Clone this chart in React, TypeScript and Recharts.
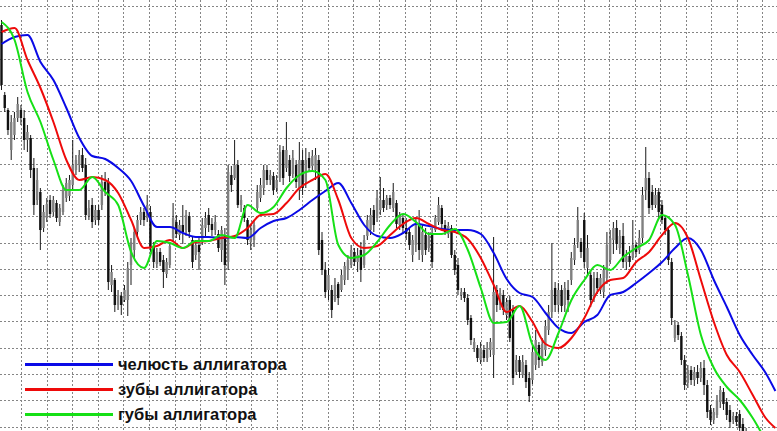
import { ComposedChart, Bar, Line, XAxis, YAxis, CartesianGrid, Legend } from 'recharts';

// price in points, one candle per entry
const highs = [
  980, 908, 892, 885, 888, 903, 895, 890, 875, 865, 842, 832, 812, 795, 802, 805, 804, 800, 796, 815,
  822, 825, 860, 845, 850, 852, 842, 800, 802, 795, 795, 825, 828, 822, 735, 722, 710, 708, 715, 738,
  762, 772, 785, 793, 792, 805, 794, 758, 752, 752, 745, 742, 758, 797, 785, 780, 795, 790, 788, 764,
  760, 764, 782, 788, 792, 782, 785, 770, 774, 772, 835, 834, 860, 840, 805, 795, 782, 775, 780, 815,
  822, 835, 835, 830, 828, 825, 855, 854, 878, 845, 850, 840, 858, 850, 852, 848, 850, 852, 845, 768,
  738, 732, 715, 722, 718, 730, 738, 745, 755, 752, 752, 758, 765, 785, 792, 795, 810, 823, 812, 805,
  805, 817, 800, 788, 785, 782, 772, 765, 782, 790, 775, 772, 768, 772, 785, 803, 795, 780, 778, 775,
  750, 742, 712, 712, 706, 685, 662, 655, 658, 655, 658, 662, 763, 715, 712, 710, 702, 704, 695, 645,
  644, 645, 640, 628, 654, 670, 658, 662, 680, 695, 757, 718, 717, 715, 718, 720, 748, 762, 793, 762,
  787, 765, 730, 728, 728, 726, 735, 768, 770, 778, 780, 770, 777, 750, 754, 780, 758, 770, 813, 853,
  828, 815, 812, 812, 800, 785, 772, 742, 680, 678, 668, 645, 635, 634, 633, 635, 638, 640, 620, 595,
  592, 605, 614, 612, 602, 595, 588, 588, 590, 582, 572, 560, 555, 550, 552, 542, 538, 530, 535, 532,
];
const lows = [
  910, 888, 865, 840, 860, 878, 875, 850, 848, 822, 785, 795, 750, 768, 778, 782, 784, 778, 774, 785,
  798, 799, 810, 825, 828, 828, 780, 780, 772, 775, 775, 790, 804, 710, 708, 688, 690, 685, 698, 684,
  715, 742, 762, 775, 774, 778, 748, 732, 732, 734, 712, 722, 732, 758, 762, 760, 756, 764, 762, 732,
  740, 730, 755, 762, 768, 764, 765, 748, 738, 715, 730, 808, 820, 792, 788, 778, 755, 750, 753, 788,
  798, 805, 815, 815, 805, 808, 818, 815, 828, 818, 822, 812, 800, 805, 812, 828, 830, 820, 745, 725,
  702, 700, 682, 698, 695, 708, 715, 720, 732, 734, 728, 718, 732, 760, 765, 768, 778, 785, 788, 790,
  791, 788, 772, 770, 768, 760, 750, 738, 748, 740, 738, 745, 748, 732, 768, 775, 772, 765, 762, 742,
  725, 705, 700, 698, 675, 655, 648, 638, 636, 638, 638, 643, 622, 688, 690, 685, 680, 658, 615, 625,
  622, 622, 612, 598, 616, 630, 632, 634, 644, 665, 682, 688, 688, 688, 688, 688, 715, 735, 752, 742,
  732, 725, 693, 698, 706, 706, 702, 716, 736, 746, 750, 746, 732, 730, 733, 740, 743, 746, 757, 800,
  786, 790, 792, 782, 776, 765, 735, 675, 658, 660, 635, 610, 612, 615, 614, 616, 618, 605, 582, 575,
  576, 582, 592, 590, 580, 572, 576, 574, 568, 560, 552, 542, 535, 530, 532, 522, 515, 510, 512, 505,
];
const opens = [
  975, 905, 890, 850, 865, 882, 890, 882, 860, 862, 832, 800, 808, 772, 782, 800, 788, 797, 778, 788,
  802, 804, 815, 830, 835, 845, 835, 784, 795, 780, 790, 795, 818, 818, 715, 720, 695, 704, 700, 700,
  735, 750, 768, 780, 788, 782, 788, 754, 736, 748, 740, 726, 735, 762, 778, 765, 775, 770, 784, 760,
  745, 755, 760, 772, 785, 776, 770, 766, 750, 765, 738, 825, 822, 835, 795, 792, 780, 758, 760, 792,
  802, 812, 830, 820, 824, 812, 822, 850, 832, 840, 826, 835, 810, 840, 818, 842, 834, 830, 840, 760,
  730, 710, 710, 700, 716, 710, 720, 730, 735, 748, 738, 750, 735, 764, 770, 790, 782, 790, 800, 795,
  802, 792, 797, 775, 782, 772, 768, 745, 755, 775, 745, 765, 752, 765, 770, 778, 792, 775, 766, 772,
  745, 735, 705, 708, 702, 682, 652, 652, 640, 650, 642, 650, 645, 710, 695, 705, 685, 700, 690, 628,
  640, 625, 635, 622, 620, 635, 655, 638, 650, 670, 688, 712, 695, 710, 695, 710, 720, 740, 758, 758,
  780, 732, 725, 702, 722, 710, 708, 722, 740, 760, 772, 752, 764, 738, 744, 742, 755, 750, 762, 810,
  822, 808, 795, 808, 795, 782, 770, 738, 662, 675, 664, 640, 617, 630, 620, 628, 622, 632, 615, 590,
  580, 585, 598, 608, 598, 590, 580, 584, 586, 576, 568, 556, 550, 540, 548, 538, 530, 522, 516, 528,
];
const closes = [
  915, 892, 870, 878, 882, 896, 882, 860, 868, 830, 795, 820, 770, 788, 796, 786, 800, 782, 792, 810,
  817, 820, 835, 840, 845, 832, 785, 792, 778, 790, 780, 818, 810, 718, 728, 695, 705, 695, 710, 732,
  758, 768, 780, 788, 780, 795, 752, 738, 748, 738, 728, 738, 754, 782, 766, 775, 768, 785, 768, 738,
  755, 748, 775, 782, 775, 770, 778, 752, 770, 735, 828, 815, 835, 795, 800, 782, 760, 770, 775, 808,
  815, 830, 820, 825, 810, 820, 848, 822, 850, 824, 842, 818, 840, 812, 840, 832, 844, 845, 750, 730,
  708, 725, 690, 715, 702, 725, 734, 740, 750, 738, 745, 730, 760, 780, 785, 775, 802, 800, 792, 802,
  795, 808, 776, 784, 772, 766, 755, 760, 775, 750, 768, 750, 764, 738, 782, 795, 776, 768, 774, 745,
  730, 710, 708, 702, 680, 660, 658, 642, 652, 642, 652, 658, 708, 695, 707, 690, 698, 662, 622, 640,
  628, 638, 618, 604, 648, 660, 640, 656, 674, 688, 710, 695, 710, 694, 712, 700, 742, 755, 780, 748,
  738, 752, 700, 722, 712, 722, 730, 755, 762, 772, 756, 764, 738, 744, 738, 755, 748, 762, 805, 822,
  792, 795, 805, 788, 780, 770, 740, 682, 675, 665, 640, 615, 630, 620, 628, 622, 632, 615, 588, 580,
  588, 600, 610, 596, 585, 578, 584, 578, 572, 564, 556, 548, 540, 545, 535, 528, 520, 514, 530, 510,
];

// alligator lines, read every 4th candle (plus the last one)
const jaw = [
  956, 963, 965, 938, 920, 892, 862, 844, 841, 832, 819, 794, 773, 773, 767, 763, 763, 762, 763, 762,
  772, 779, 782, 790, 800, 809, 817, 797, 775, 764, 762, 767, 776, 774, 771, 770, 770, 766, 747, 721,
  707, 703, 687, 672, 667, 678, 685, 705, 708, 717, 727, 738, 752, 762, 750, 720, 693, 665, 645, 627, 609,
];
const teeth = [
  968, 972, 940, 912, 878, 840, 820, 823, 820, 807, 780, 752, 754, 760, 752, 758, 759, 762, 764, 772,
  785, 786, 797, 812, 820, 826, 800, 762, 752, 754, 765, 776, 782, 776, 770, 768, 761, 742, 715, 688,
  694, 678, 656, 652, 662, 682, 708, 720, 722, 738, 748, 765, 777, 762, 720, 678, 645, 628, 605, 582, 572,
];
const lips = [
  978, 960, 908, 878, 840, 810, 810, 823, 808, 795, 748, 732, 759, 757, 752, 759, 759, 765, 762, 795,
  787, 793, 812, 825, 829, 820, 755, 742, 745, 758, 775, 786, 778, 766, 766, 771, 750, 712, 677, 678,
  694, 655, 640, 667, 700, 720, 735, 730, 743, 752, 760, 785, 775, 725, 665, 632, 613, 600, 582, 560, 545,
];

const series = [
  { key: 'jaw', label: 'челюсть аллигатора', color: '#0a0ae6' },
  { key: 'teeth', label: 'зубы аллигатора', color: '#ee0a0a' },
  { key: 'lips', label: 'губы аллигатора', color: '#16e016' },
];

const STEP = 4;
const lineAt = (arr: number[], i: number) => {
  if (i === highs.length - 1) return arr[arr.length - 1];
  return i % STEP === 0 ? arr[i / STEP] : null;
};

const data = highs.map((h, i) => ({
  i,
  open: opens[i],
  close: closes[i],
  high: h,
  low: lows[i],
  range: [lows[i], h],
  jaw: lineAt(jaw, i),
  teeth: lineAt(teeth, i),
  lips: lineAt(lips, i),
}));

const Candle = (props: any) => {
  const { x, y, width, height, payload } = props;
  if (x == null || y == null) return null;
  const top = Math.min(y, y + height);
  const h = Math.abs(height);
  const { open, close, high, low } = payload;
  const span = high - low || 1;
  const py = (v: number) => top + ((high - v) / span) * h;
  const cx = x + width / 2;
  const bodyTop = py(Math.max(open, close));
  const bodyBot = py(Math.min(open, close));
  const up = close >= open;
  const bw = 2.4;
  return (
    <g>
      <line x1={cx} x2={cx} y1={top} y2={top + h} stroke="#1a1a1a" strokeWidth={1} />
      <rect
        x={cx - bw / 2}
        y={bodyTop}
        width={bw}
        height={Math.max(1, bodyBot - bodyTop)}
        fill={up ? '#808080' : '#111111'}
      />
    </g>
  );
};

const AlligatorLegend = () => (
  <div style={{ fontFamily: '"Liberation Sans", Arial, sans-serif' }}>
    {series.map((s) => (
      <div key={s.key} style={{ display: 'flex', alignItems: 'center', height: 25 }}>
        <span style={{ display: 'inline-block', width: 88, height: 3, background: s.color, marginRight: 5 }} />
        <span style={{ fontSize: 16.5, fontWeight: 'bold', color: '#111', lineHeight: '25px' }}>{s.label}</span>
      </div>
    ))}
  </div>
);

export default function App() {
  return (
    <div style={{ position: 'absolute', left: 0, top: 0, width: 777, height: 431, background: '#fff' }}>
      <ComposedChart
        width={777}
        height={431}
        data={data}
        margin={{ top: 0, right: 0, bottom: 0, left: 0 }}
        barCategoryGap={0}
      >
        <CartesianGrid
          stroke="#858585"
          strokeDasharray="2 2"
          verticalCoordinatesGenerator={({ offset }: any) =>
            Array.from({ length: 30 }, (_, k) => Math.floor(offset.left + 21.7 + k * 25.56) + 0.5)
          }
          horizontalCoordinatesGenerator={({ offset }: any) =>
            Array.from({ length: 17 }, (_, k) => Math.floor(offset.top + 6.7 + k * 26.27) + 0.5)
          }
        />
        <XAxis dataKey="i" type="category" hide />
        <YAxis type="number" domain={[569, 1000]} allowDataOverflow hide />
        <Bar dataKey="range" shape={<Candle />} isAnimationActive={false} legendType="none" />
        {series.map((s) => (
          <Line
            key={s.key}
            dataKey={s.key}
            name={s.label}
            type="monotone"
            stroke={s.color}
            strokeWidth={2}
            dot={false}
            activeDot={false}
            connectNulls
            isAnimationActive={false}
          />
        ))}
        <Legend
          layout="horizontal"
          align="center"
          verticalAlign="middle"
          wrapperStyle={{ left: 25, top: 352, width: 340 }}
          content={() => <AlligatorLegend />}
        />
      </ComposedChart>
    </div>
  );
}
